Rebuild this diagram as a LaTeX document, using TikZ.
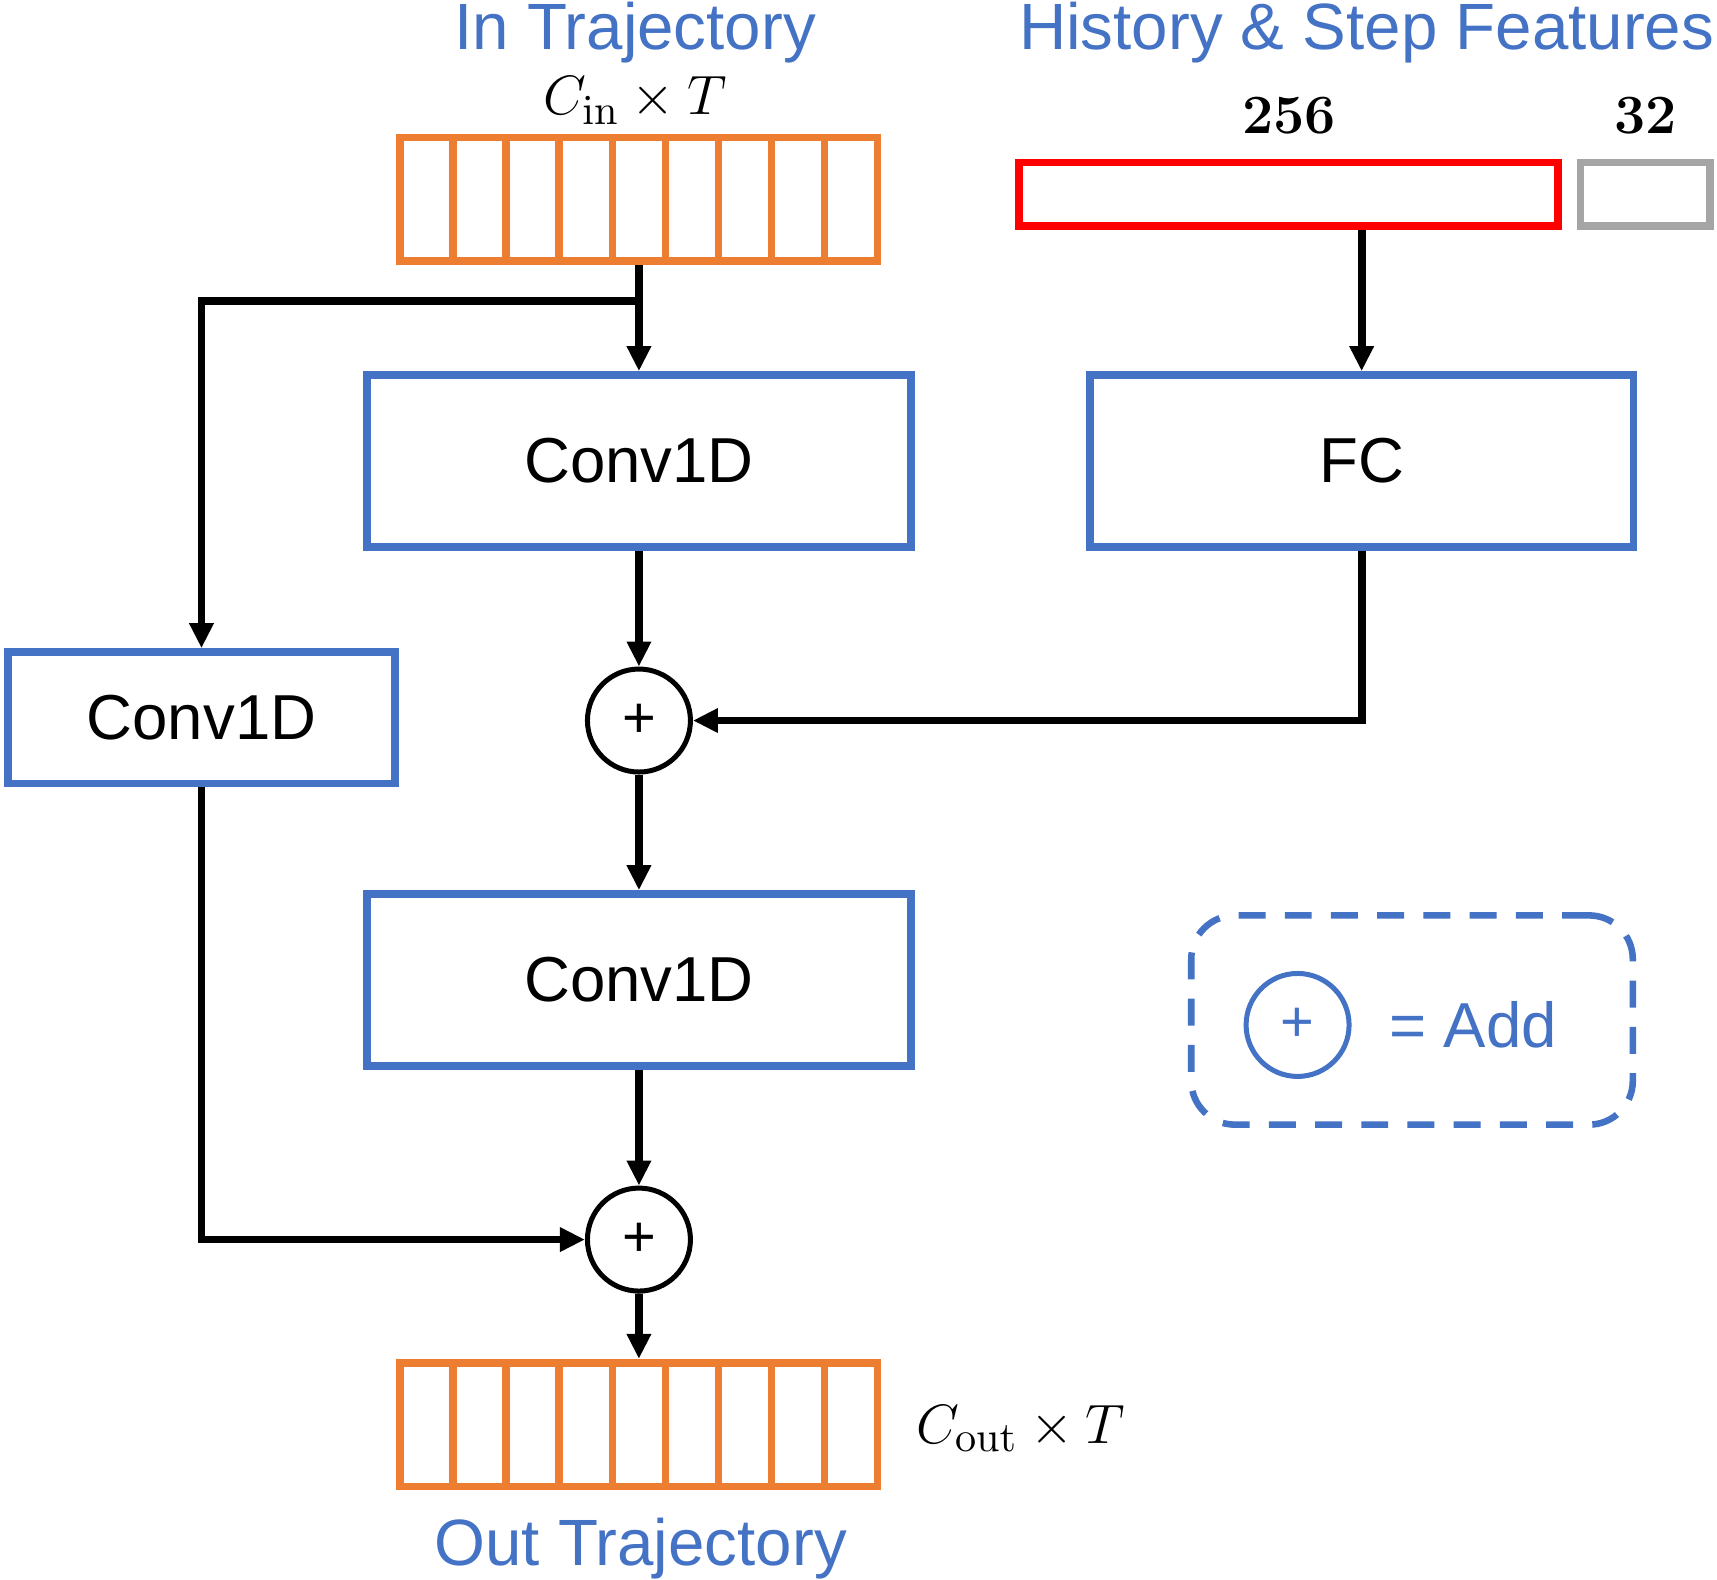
\documentclass[tikz,border=0pt]{standalone}
\usepackage[no-math]{fontspec}
\setmainfont{Liberation Sans}
\usetikzlibrary{arrows.meta,positioning,shapes}
\definecolor{tblue}{HTML}{4472C4}
\definecolor{torange}{HTML}{ED7D31}
\definecolor{tred}{HTML}{FF0000}
\definecolor{tgray}{HTML}{A5A5A5}
\begin{document}
\begin{tikzpicture}[
  x=0.01cm, y=-0.01cm,
  block/.style={draw=tblue,line width=2pt,minimum width=4.96cm,minimum height=1.57cm,font=\fontsize{16.5}{20}\selectfont},
  adder/.style={draw,circle,line width=1.3pt,minimum size=0.94cm,inner sep=0pt,font=\fontsize{15}{17}\selectfont},
  cell/.style={draw=torange,line width=2pt,minimum width=0.4844cm,minimum height=1.13cm,inner sep=0pt},
  vec/.style={line width=2pt,minimum height=0.58cm,inner sep=0pt},
  title/.style={text=tblue,inner sep=0pt,anchor=base,font=\fontsize{17}{20}\selectfont},
  dim/.style={inner sep=0pt,anchor=base,font=\fontsize{15.3}{18}\selectfont},
  feat/.style={inner sep=0pt,anchor=base,font=\fontsize{14.5}{18}\selectfont},
  >={Triangle[length=6.5pt,width=6pt]}
]
\useasboundingbox (0,0) rectangle (1568,1442);
% Titles
\node[title] (intitle) at (580,45) {In Trajectory};
\node[title] (histtitle) at (1248,45) {History \& Step Features};
\node[title] (outtitle) at (585,1430) {Out Trajectory};
% Sizes
\node[dim] (indim) at (580,105) {$C_{\mathrm{in}}\times T$};
\node[dim,anchor=base west] (outdim) at (836,1318) {$C_{\mathrm{out}}\times T$};
\node[feat] (histdim) at (1177,122) {$\mathbf{256}$};
\node[feat] (stepdim) at (1503,122) {$\mathbf{32}$};
% Trajectory arrays
\foreach \i in {0,...,8} {
  \node[cell] (in\i) at (389.7+48.44*\i,182) {};
  \node[cell] (out\i) at (389.7+48.44*\i,1301) {};
}
% Feature vectors
\node[vec,draw=tred,minimum width=4.92cm] (hist) at (1176.5,177.5) {};
\node[vec,draw=tgray,minimum width=1.18cm] (step) at (1502.5,177.5) {};
% Blocks
\node[block] (conv1) at (583.5,421) {Conv1D};
\node[block] (fc) at (1243.5,421) {FC};
\node[block,minimum width=3.53cm,minimum height=1.2cm] (skip) at (184,655.5) {Conv1D};
\node[block] (conv2) at (583.5,895) {Conv1D};
\node[adder] (add1) at (583.5,658) {+};
\node[adder] (add2) at (583.5,1132) {+};
% Legend
\node[draw=tblue,line width=1.7pt,dash pattern=on 7pt off 5pt,rounded corners=0.4cm,minimum width=4.03cm,minimum height=1.91cm] (legend) at (1289.5,931.5) {};
\node[adder,draw=tblue,text=tblue] (legadd) at (1185,936) {+};
\node[text=tblue,anchor=west,inner sep=0pt,font=\fontsize{16.5}{20}\selectfont] (legtext) at (1268,936) {= Add};
% Edges
\coordinate (split) at (583.5,275);
\begin{scope}[line width=2pt]
\draw[->] (in4.south) -- (conv1.north);
\draw[->] (split) -| (skip.north);
\draw[->] (fc.north |- hist.south) -- (fc.north);
\draw[->] (conv1.south) -- (add1.north);
\draw[->] (fc.south) |- (add1.east);
\draw[->] (add1.south) -- (conv2.north);
\draw[->] (conv2.south) -- (add2.north);
\draw[->] (skip.south) |- (add2.west);
\draw[->] (add2.south) -- (out4.north);
\end{scope}
\end{tikzpicture}
\end{document}
